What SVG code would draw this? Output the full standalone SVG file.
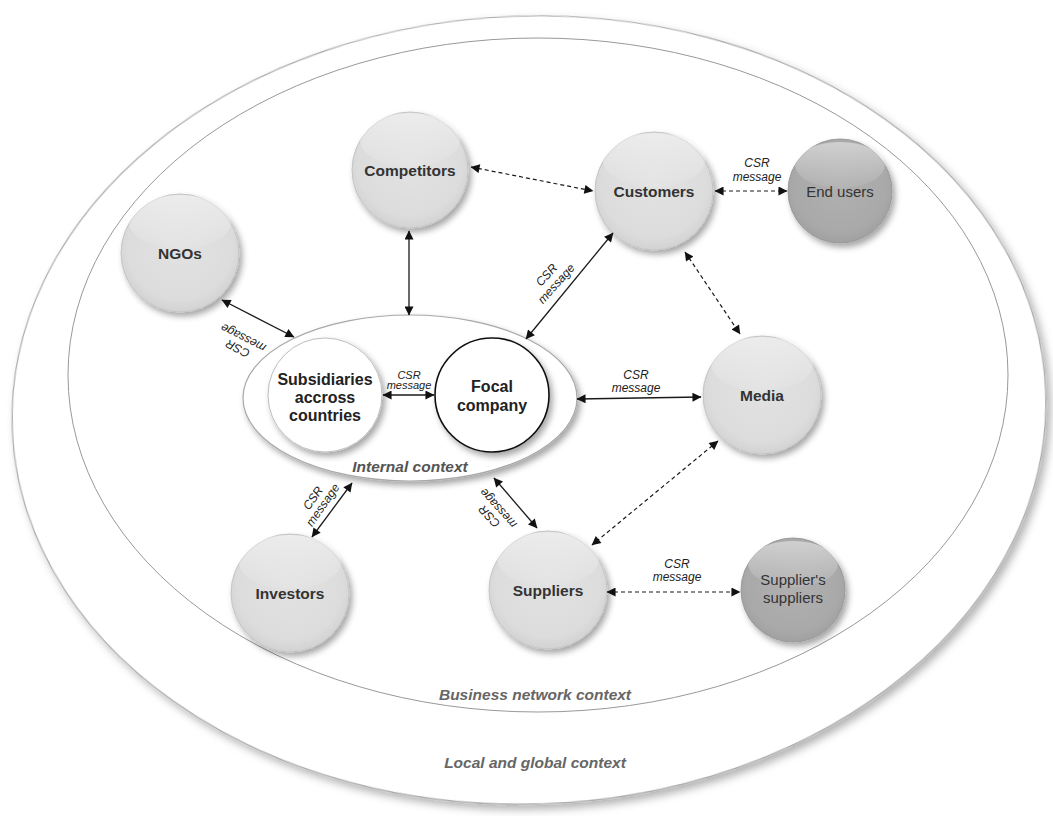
<svg xmlns="http://www.w3.org/2000/svg" width="1053" height="816" viewBox="0 0 1053 816">
<defs>
<style>
.ctx{fill:#fff;stroke:#a8a8a8;stroke-width:1.2}
.lbl{font-family:"Liberation Sans",Arial,sans-serif;font-weight:bold;font-size:15.5px;fill:#333;text-anchor:middle}
.lbl2{font-family:"Liberation Sans",Arial,sans-serif;font-size:15px;fill:#333;text-anchor:middle}
.wl{font-family:"Liberation Sans",Arial,sans-serif;font-weight:bold;font-size:16px;fill:#222;text-anchor:middle}
.csr{font-family:"Liberation Sans",Arial,sans-serif;font-style:italic;font-size:12px;fill:#222;text-anchor:middle}
.csrs{font-family:"Liberation Sans",Arial,sans-serif;font-style:italic;font-size:11px;fill:#222;text-anchor:middle}
.ctxl{font-family:"Liberation Sans",Arial,sans-serif;font-style:italic;font-weight:bold;font-size:15.5px;fill:#666;text-anchor:middle}
.solid{fill:none;stroke:#1a1a1a;stroke-width:1.3;marker-start:url(#ah);marker-end:url(#ah)}
.dash{fill:none;stroke:#1a1a1a;stroke-width:1.2;stroke-dasharray:4 3;marker-start:url(#ah);marker-end:url(#ah)}
.sph{fill:url(#gl);stroke:#c4c4c4;stroke-width:1;filter:url(#sh)}
.sphd{fill:url(#gd);stroke:#9a9a9a;stroke-width:1;filter:url(#sh)}
.hl{fill:url(#hlg)}
</style>
<radialGradient id="gl" cx="50%" cy="45%" r="60%">
<stop offset="0" stop-color="#e2e2e2"/>
<stop offset="0.75" stop-color="#dcdcdc"/>
<stop offset="1" stop-color="#cdcdcd"/>
</radialGradient>
<radialGradient id="gd" cx="50%" cy="45%" r="60%">
<stop offset="0" stop-color="#b0b0b0"/>
<stop offset="0.75" stop-color="#a9a9a9"/>
<stop offset="1" stop-color="#9c9c9c"/>
</radialGradient>
<linearGradient id="hlg" x1="0" y1="0" x2="0" y2="1">
<stop offset="0" stop-color="#fff" stop-opacity="0.45"/>
<stop offset="1" stop-color="#fff" stop-opacity="0.05"/>
</linearGradient>
<filter id="sh" x="-30%" y="-30%" width="160%" height="160%">
<feDropShadow dx="3" dy="4" stdDeviation="3" flood-color="#000" flood-opacity="0.35"/>
</filter>
<filter id="sho" x="-10%" y="-10%" width="120%" height="120%">
<feDropShadow dx="4" dy="5" stdDeviation="4" flood-color="#000" flood-opacity="0.3"/>
</filter>
<marker id="ah" viewBox="0 0 10 10" refX="9.5" refY="5" markerWidth="12" markerHeight="9" markerUnits="userSpaceOnUse" orient="auto-start-reverse">
<path d="M0,0 L10,5 L0,10 z" fill="#111"/>
</marker>
</defs>
<rect width="1053" height="816" fill="#fff"/>

<g id="local-global-context">
<ellipse class="ctx" cx="529" cy="410" rx="517" ry="394" transform="rotate(-2 529 410)" filter="url(#sho)"/>
<text class="ctxl" x="535" y="768">Local and global context</text>
</g>
<g id="business-network-context">
<ellipse cx="538" cy="375" rx="470" ry="337" fill="#fff" stroke="#999" stroke-width="1"/>
<text class="ctxl" x="535" y="700">Business network context</text>
</g>

<g id="internal-context">
<ellipse class="ctx" cx="410" cy="398" rx="167" ry="83" filter="url(#sh)"/>
<text class="ctxl" x="410" y="472" style="fill:#555">Internal context</text>
</g>
<g id="subsidiaries">
<circle cx="325" cy="395" r="57" fill="#fff" stroke="#bdbdbd" stroke-width="1" filter="url(#sh)"/>
<text class="wl" x="325" y="385">Subsidiaries</text>
<text class="wl" x="325" y="403">accross</text>
<text class="wl" x="325" y="421">countries</text>
</g>
<g id="focal-company">
<circle cx="492" cy="395" r="57" fill="#fff" stroke="#111" stroke-width="1.6" filter="url(#sh)"/>
<text class="wl" x="492" y="392">Focal</text>
<text class="wl" x="492" y="411">company</text>
</g>

<g id="competitors">
<circle class="sph" cx="410" cy="170" r="58"/>
<ellipse class="hl" cx="410" cy="140" rx="50" ry="27"/>
<text class="lbl" x="410" y="176">Competitors</text>
</g>
<g id="customers">
<circle class="sph" cx="654" cy="191" r="59"/>
<ellipse class="hl" cx="654" cy="160" rx="51" ry="27"/>
<text class="lbl" x="654" y="197">Customers</text>
</g>
<g id="end-users">
<circle class="sphd" cx="840" cy="191" r="52"/>
<ellipse class="hl" cx="840" cy="165" rx="45" ry="23"/>
<text class="lbl2" x="840" y="197">End users</text>
</g>
<g id="ngos">
<circle class="sph" cx="180" cy="253" r="59"/>
<ellipse class="hl" cx="180" cy="222" rx="51" ry="27"/>
<text class="lbl" x="180" y="259">NGOs</text>
</g>
<g id="media">
<circle class="sph" cx="762" cy="395" r="59"/>
<ellipse class="hl" cx="762" cy="364" rx="51" ry="27"/>
<text class="lbl" x="762" y="401">Media</text>
</g>
<g id="investors">
<circle class="sph" cx="290" cy="593" r="59"/>
<ellipse class="hl" cx="290" cy="562" rx="51" ry="27"/>
<text class="lbl" x="290" y="599">Investors</text>
</g>
<g id="suppliers">
<circle class="sph" cx="548" cy="590" r="59"/>
<ellipse class="hl" cx="548" cy="559" rx="51" ry="27"/>
<text class="lbl" x="548" y="596">Suppliers</text>
</g>
<g id="suppliers-suppliers">
<circle class="sphd" cx="793" cy="590" r="52"/>
<ellipse class="hl" cx="793" cy="564" rx="45" ry="23"/>
<text class="lbl2" x="793" y="585">Supplier's</text>
<text class="lbl2" x="793" y="603">suppliers</text>
</g>

<g id="connectors">
<path class="dash" d="M471,167 L593,191"/>
<path class="dash" d="M715,191 L787,191"/>
<path class="solid" d="M409,231 L409,315"/>
<path class="solid" d="M222,300 L294,337"/>
<path class="solid" d="M613,233 L526,339"/>
<path class="dash" d="M685,252 L740,334"/>
<path class="solid" d="M577,399 L701,397"/>
<path class="dash" d="M718,441 L592,545"/>
<path class="solid" d="M352,483 L312,537"/>
<path class="solid" d="M494,478 L537,528"/>
<path class="dash" d="M607,592 L740,592"/>
<path class="solid" d="M383,395 L434,395"/>

<text class="csr" x="757" y="167">CSR</text>
<text class="csr" x="757" y="181">message</text>
<text class="csr" x="636" y="379">CSR</text>
<text class="csr" x="636" y="392">message</text>
<text class="csrs" x="409" y="379">CSR</text>
<text class="csrs" x="409" y="389">message</text>
<text class="csr" x="677" y="568">CSR</text>
<text class="csr" x="677" y="581">message</text>
<g transform="translate(551,279) rotate(-48)">
<text class="csr" x="0" y="-2">CSR</text>
<text class="csr" x="0" y="11">message</text>
</g>
<g transform="translate(240,344) rotate(207)">
<text class="csr" x="0" y="-1">CSR</text>
<text class="csr" x="0" y="11">message</text>
</g>
<g transform="translate(317,501) rotate(-55)">
<text class="csr" x="0" y="-1">CSR</text>
<text class="csr" x="0" y="11">message</text>
</g>
<g transform="translate(493,513) rotate(228)">
<text class="csr" x="0" y="-1">CSR</text>
<text class="csr" x="0" y="11">message</text>
</g>
</g>
</svg>
